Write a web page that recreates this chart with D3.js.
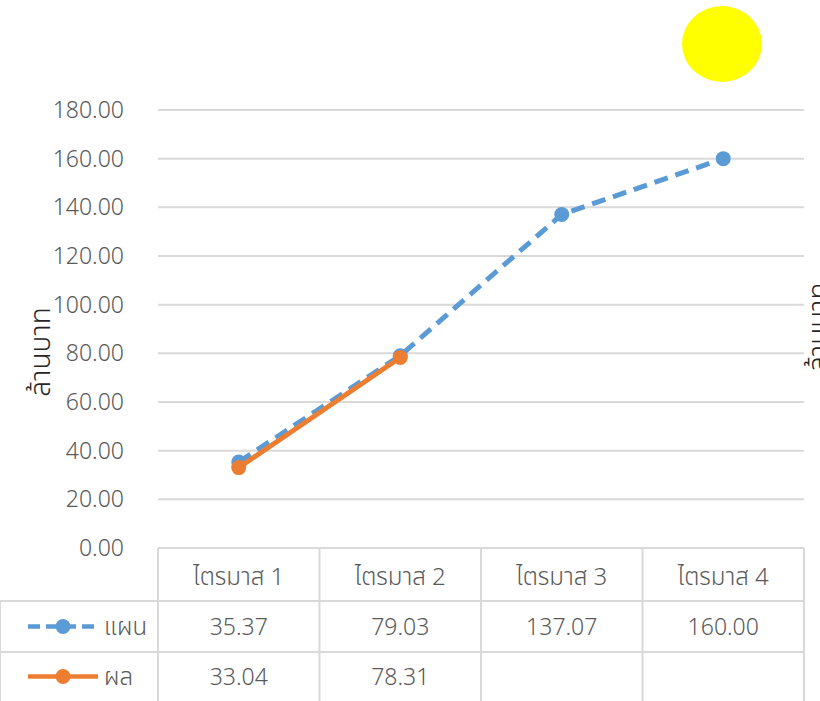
<!DOCTYPE html>
<html>
  <head>
    <meta charset="utf-8">
    <title>แผน / ผล</title>
    <script src="https://d3js.org/d3.v7.min.js"></script>
    <style>
      body { margin: 0; background: #fff; }
      svg text { font-family: "Noto Sans", "Noto Sans Thai", sans-serif; fill: #595959; font-weight: 300; }
    </style>
  </head>
  <body>
    <div id="chart"></div>
    <script>
      // data
      var quarters = ["ไตรมาส 1", "ไตรมาส 2", "ไตรมาส 3", "ไตรมาส 4"];
      var planValues = [35.37, 79.03, 137.07, 160.00];
      var resultValues = [33.04, 78.31, null, null];
      var seriesNames = ["แผน", "ผล"];
      var yTicks = [0, 20, 40, 60, 80, 100, 120, 140, 160, 180];

      var width = 820, height = 701;
      var blue = "#5b9bd5", orange = "#ed7d31", grid = "#d9d9d9";

      var svg = d3.select("#chart").append("svg")
          .attr("width", width)
          .attr("height", height);

      // scales
      var x = d3.scaleBand().domain(quarters).range([158, 804]);
      var y = d3.scaleLinear().domain([0, 180]).range([548, 110]);

      // gridlines
      svg.append("g")
        .selectAll("line")
        .data(yTicks)
        .enter().append("line")
          .attr("x1", 158).attr("x2", 804)
          .attr("y1", function(d) { return y(d); })
          .attr("y2", function(d) { return y(d); })
          .attr("stroke", grid)
          .attr("stroke-width", 2);

      // y axis labels
      svg.append("g")
        .selectAll("text")
        .data(yTicks)
        .enter().append("text")
          .attr("x", 124)
          .attr("y", function(d) { return y(d); })
          .attr("dy", "0.35em")
          .attr("text-anchor", "end")
          .style("font-size", "23px")
          .text(function(d) { return d3.format(".2f")(d); });

      // axis titles (second one sits mostly off the right edge, as in the original)
      svg.append("text")
        .attr("transform", "translate(50,352) rotate(-90)")
        .attr("text-anchor", "middle")
        .style("font-size", "28px")
        .style("fill", "#262626")
        .text("ล้านบาท");
      svg.append("text")
        .attr("transform", "translate(828,372) rotate(-90)")
        .attr("text-anchor", "start")
        .style("font-size", "28px")
        .style("fill", "#262626")
        .text("ล้านบาท");

      // data table
      var rows = [548, 601, 652, 701];
      var table = svg.append("g");
      x.domain().forEach(function(q) {
        table.append("line")
          .attr("x1", x(q)).attr("x2", x(q))
          .attr("y1", 548).attr("y2", height)
          .attr("stroke", grid).attr("stroke-width", 2);
      });
      table.append("line")
        .attr("x1", 804).attr("x2", 804)
        .attr("y1", 548).attr("y2", height)
        .attr("stroke", grid).attr("stroke-width", 2);
      [601, 652].forEach(function(r) {
        table.append("line")
          .attr("x1", 0).attr("x2", 804)
          .attr("y1", r).attr("y2", r)
          .attr("stroke", grid).attr("stroke-width", 2);
      });
      table.append("line")
        .attr("x1", 0).attr("x2", 0)
        .attr("y1", 601).attr("y2", height)
        .attr("stroke", grid).attr("stroke-width", 2);

      // header
      table.selectAll(".head")
        .data(quarters)
        .enter().append("text")
          .attr("class", "head")
          .attr("x", function(d) { return x(d) + x.bandwidth() / 2; })
          .attr("y", (rows[0] + rows[1]) / 2 + 2)
          .attr("dy", "0.35em")
          .attr("text-anchor", "middle")
          .style("font-size", "24px")
          .text(function(d) { return d; });

      var series = [
        { name: seriesNames[0], values: planValues, colour: blue, dash: "14,8" },
        { name: seriesNames[1], values: resultValues, colour: orange, dash: null }
      ];

      series.forEach(function(s, i) {
        var cy = (rows[i + 1] + rows[i + 2]) / 2;
        table.selectAll(".v" + i)
          .data(s.values)
          .enter().filter(function(d) { return d != null; })
          .append("text")
            .attr("x", function(d, j) { return x(quarters[j]) + x.bandwidth() / 2; })
            .attr("y", cy)
            .attr("dy", "0.35em")
            .attr("text-anchor", "middle")
            .style("font-size", "23px")
            .text(function(d) { return d3.format(".2f")(d); });
        // legend key
        table.append("line")
          .attr("x1", 28).attr("x2", 98)
          .attr("y1", cy).attr("y2", cy)
          .attr("stroke", s.colour).attr("stroke-width", 4.5)
          .attr("stroke-dasharray", s.dash ? "12,6" : null);
        table.append("circle")
          .attr("cx", 63).attr("cy", cy).attr("r", 7.5)
          .attr("fill", s.colour);
        table.append("text")
          .attr("x", 104).attr("y", cy)
          .attr("dy", "0.35em")
          .style("font-size", "24px")
          .text(s.name);
      });

      // lines
      var line = d3.line()
        .defined(function(d) { return d != null; })
        .x(function(d, j) { return x(quarters[j]) + x.bandwidth() / 2; })
        .y(function(d) { return y(d); });

      series.forEach(function(s) {
        svg.append("path")
          .datum(s.values)
          .attr("d", line)
          .attr("fill", "none")
          .attr("stroke", s.colour)
          .attr("stroke-width", 5)
          .attr("stroke-linecap", s.dash ? "butt" : "round")
          .attr("stroke-dasharray", s.dash);
        svg.append("g")
          .selectAll("circle")
          .data(s.values.map(function(v, j) { return { v: v, q: quarters[j] }; })
            .filter(function(d) { return d.v != null; }))
          .enter().append("circle")
            .attr("cx", function(d) { return x(d.q) + x.bandwidth() / 2; })
            .attr("cy", function(d) { return y(d.v); })
            .attr("r", 7.5)
            .attr("fill", s.colour);
      });

      // yellow circle
      svg.append("ellipse")
        .attr("cx", 722).attr("cy", 44)
        .attr("rx", 40).attr("ry", 38)
        .attr("fill", "#ffff00");
    </script>
  </body>
</html>
